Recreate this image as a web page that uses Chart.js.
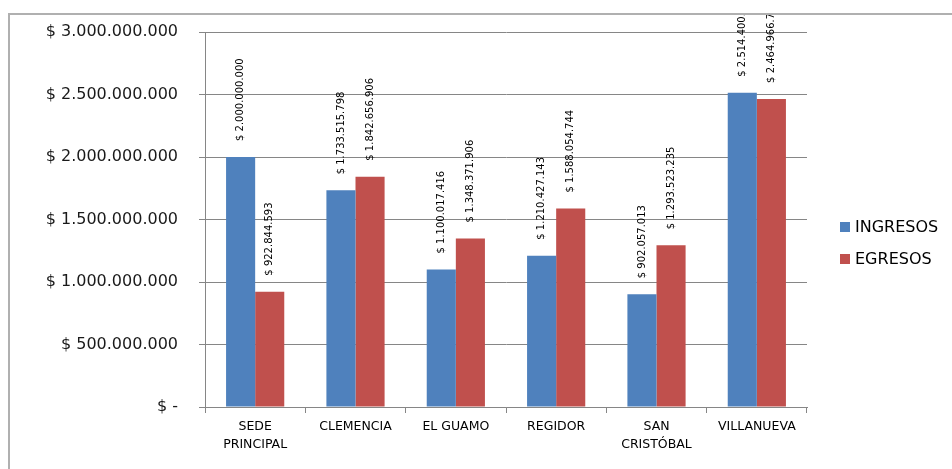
<!DOCTYPE html>
<html>
<head>
<meta charset="utf-8">
<script src="https://cdn.jsdelivr.net/npm/chart.js@4"></script>
<style>
  html, body { margin: 0; padding: 0; background: #fff; width: 952px; height: 469px; overflow: hidden; }
  #marco {
    position: absolute; left: 8px; top: 13px;
    border-left: 2px solid #b0b0b0; border-top: 2px solid #b0b0b0;
    width: 942px; height: 454px;
  }
  #grafico { display: block; }
</style>
</head>
<body>
<div id="marco"><canvas id="grafico" width="942" height="454"></canvas></div>
<script>
/* ---------- datos ---------- */
const sedes = [["SEDE", "PRINCIPAL"], "CLEMENCIA", "EL GUAMO", "REGIDOR", ["SAN", "CRISTÓBAL"], "VILLANUEVA"];
const ingresos = [2000000000, 1733515798, 1100017416, 1210427143, 902057013, 2514400724];
const egresos = [922844593, 1842656906, 1348371906, 1588054744, 1293523235, 2464966717];
const nombresSeries = ["INGRESOS", "EGRESOS"];
const colores = ["#4F81BD", "#C0504D"];
const ejeY = { min: 0, max: 3000000000, paso: 500000000 };

/* ---------- formato pesos ---------- */
function pesos(v) {
  if (v === 0) return "$ -";
  return "$ " + String(Math.round(v)).replace(/\B(?=(\d{3})+(?!\d))/g, ".");
}

const GRIS = "#868686";
const FUENTE = "'DejaVu Sans', Verdana, sans-serif";

/* etiquetas verticales encima de cada barra */
const etiquetasBarras = {
  id: "etiquetasBarras",
  afterDatasetsDraw(chart) {
    const ctx = chart.ctx;
    ctx.save();
    ctx.font = "10px " + FUENTE;
    ctx.fillStyle = "#000";
    ctx.textAlign = "left";
    ctx.textBaseline = "middle";
    chart.data.datasets.forEach((ds, i) => {
      chart.getDatasetMeta(i).data.forEach((barra, j) => {
        ctx.save();
        ctx.translate(barra.x, barra.y - 16);
        ctx.rotate(-Math.PI / 2);
        ctx.fillText(pesos(ds.data[j]), 0, 0);
        ctx.restore();
      });
    });
    ctx.restore();
  }
};

/* leyenda a la derecha */
const leyenda = {
  id: "leyenda",
  afterDraw(chart) {
    const ctx = chart.ctx;
    ctx.save();
    ctx.font = "16px " + FUENTE;
    ctx.textBaseline = "middle";
    ctx.textAlign = "left";
    chart.data.datasets.forEach((ds, i) => {
      const y = 212 + i * 32;
      ctx.fillStyle = ds.backgroundColor;
      ctx.fillRect(830, y - 5, 10, 10);
      ctx.fillStyle = "#000";
      ctx.fillText(ds.label, 845, y + 1);
    });
    ctx.restore();
  }
};

new Chart(document.getElementById("grafico"), {
  type: "bar",
  data: {
    labels: sedes,
    datasets: [
      { label: nombresSeries[0], data: ingresos, backgroundColor: colores[0] },
      { label: nombresSeries[1], data: egresos, backgroundColor: colores[1] }
    ]
  },
  options: {
    responsive: false,
    animation: false,
    devicePixelRatio: 1,
    categoryPercentage: 0.58,
    barPercentage: 1.0,
    layout: { padding: { left: 0, top: 17, right: 145, bottom: 0 } },
    plugins: {
      legend: { display: false },
      tooltip: { enabled: false }
    },
    scales: {
      x: {
        afterFit(s) { s.height = 62; },
        grid: { offset: true, drawOnChartArea: false, color: GRIS, tickLength: 6 },
        border: { color: GRIS, width: 1 },
        ticks: {
          color: "#000", padding: 5, maxRotation: 0, autoSkip: false,
          font: { family: FUENTE, size: 12.5, lineHeight: 1.45 }
        }
      },
      y: {
        min: ejeY.min, max: ejeY.max,
        // ancho fijo del eje y sin relleno vertical extra
        afterFit(s) { s.width = 195; s.paddingTop = 0; s.paddingBottom = 0; },
        grid: { color: GRIS, tickLength: 6 },
        border: { color: GRIS, width: 1 },
        ticks: {
          stepSize: ejeY.paso, color: "#1a1a1a", padding: 21,
          font: { family: FUENTE, size: 16 },
          callback: v => pesos(v)
        }
      }
    }
  },
  plugins: [etiquetasBarras, leyenda]
});
</script>
</body>
</html>
